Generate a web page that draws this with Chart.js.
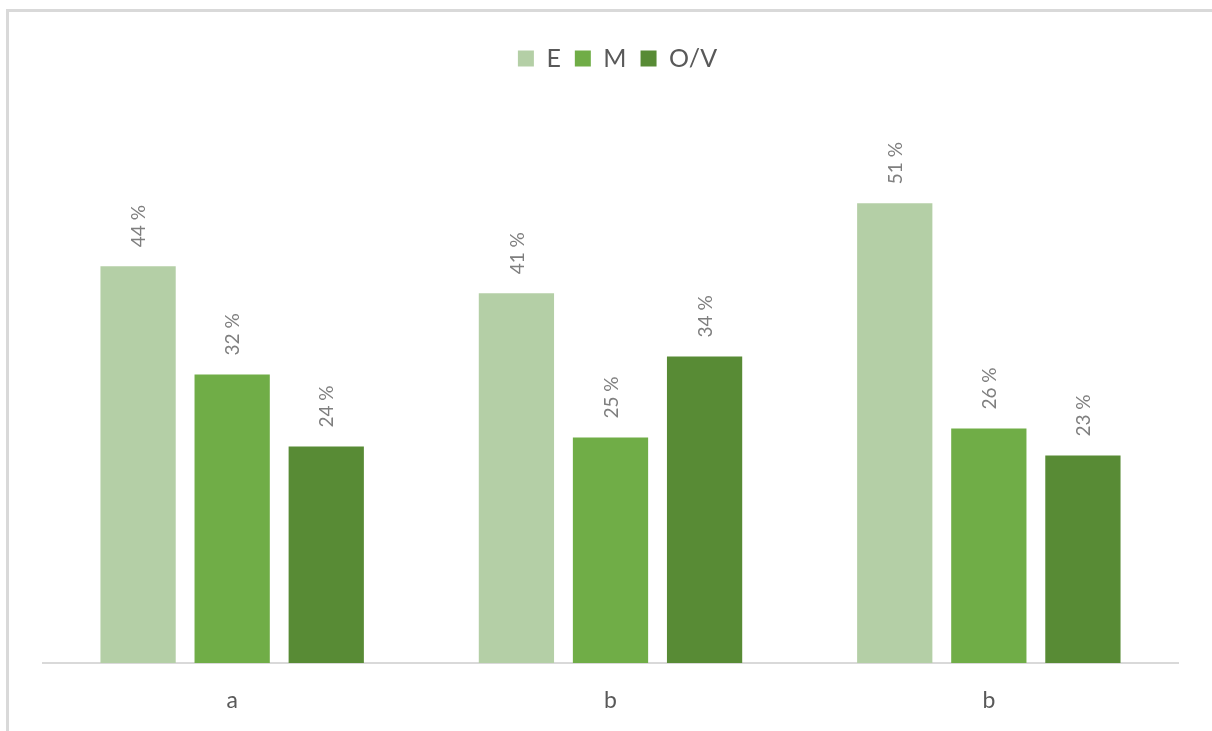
<!DOCTYPE html>
<html>
<head>
<meta charset="utf-8">
<script src="https://cdn.jsdelivr.net/npm/chart.js@4/dist/chart.umd.min.js"></script>
<style>
  html, body { margin: 0; padding: 0; background: #fff; overflow: hidden; }
  #wrap { position: absolute; left: 0; top: 0; width: 1212px; height: 731px; }
  #frame { position: absolute; left: 6px; top: 9px; right: -10px; bottom: -10px;
           border-left: 3px solid #d9d9d9; border-top: 3px solid #d9d9d9; pointer-events: none; }
</style>
</head>
<body>
<div id="wrap"><canvas id="chart" width="1212" height="731"></canvas></div>
<div id="frame"></div>
<script>
const categories = ['a', 'b', 'b'];
const seriesNames = ['E', 'M', 'O/V'];
const valuesE = [44, 41, 51];
const valuesM = [32, 25, 26];
const valuesOV = [24, 34, 23];
const colors = ['#b4cfa6', '#70ad47', '#588b35'];

// labels above the bars, rotated
const barLabels = {
  id: 'barLabels',
  afterDatasetsDraw(chart) {
    const ctx = chart.ctx;
    ctx.save();
    ctx.fillStyle = '#7f7f7f';
    ctx.font = '19px Lato, "Open Sans", sans-serif';
    ctx.textAlign = 'left';
    ctx.textBaseline = 'middle';
    chart.data.datasets.forEach((ds, i) => {
      chart.getDatasetMeta(i).data.forEach((bar, j) => {
        ctx.save();
        ctx.translate(bar.x + 1, bar.y - 19);
        ctx.rotate(-Math.PI / 2);
        ctx.fillText(ds.data[j] + ' %', 0, 0);
        ctx.restore();
      });
    });
    ctx.restore();
  }
};

// extra room under the legend, and nudge it a bit right
const legendMargin = {
  id: 'legendMargin',
  beforeInit(chart) {
    const fit = chart.legend.fit;
    chart.legend.fit = function () {
      fit.bind(chart.legend)();
      this.height += 41;
    };
  },
  afterLayout(chart) {
    chart.legend.left += 7;
    chart.legend.right += 7;
  }
};

const ctx = document.getElementById('chart').getContext('2d');
new Chart(ctx, {
  type: 'bar',
  data: {
    labels: categories,
    datasets: [
      { label: seriesNames[0], data: valuesE, backgroundColor: colors[0] },
      { label: seriesNames[1], data: valuesM, backgroundColor: colors[1] },
      { label: seriesNames[2], data: valuesOV, backgroundColor: colors[2] }
    ]
  },
  options: {
    responsive: false,
    animation: false,
    categoryPercentage: 0.746,
    barPercentage: 0.8,
    layout: { padding: { left: 43, right: 34, top: 32, bottom: 18 } },
    plugins: {
      legend: {
        labels: {
          boxWidth: 16,
          boxHeight: 16,
          padding: 14,
          color: '#595959',
          font: { size: 25, family: 'Lato, "Open Sans", sans-serif' }
        }
      },
      tooltip: { enabled: false }
    },
    scales: {
      x: {
        grid: { display: false },
        border: { color: '#d9d9d9', width: 2 },
        ticks: {
          color: '#595959',
          padding: 16,
          font: { size: 23, family: 'Lato, "Open Sans", sans-serif' }
        },
        afterFit(scale) { scale.height = 50; }
      },
      y: {
        display: false,
        min: 0,
        max: 60
      }
    }
  },
  plugins: [barLabels, legendMargin]
});
</script>
</body>
</html>
